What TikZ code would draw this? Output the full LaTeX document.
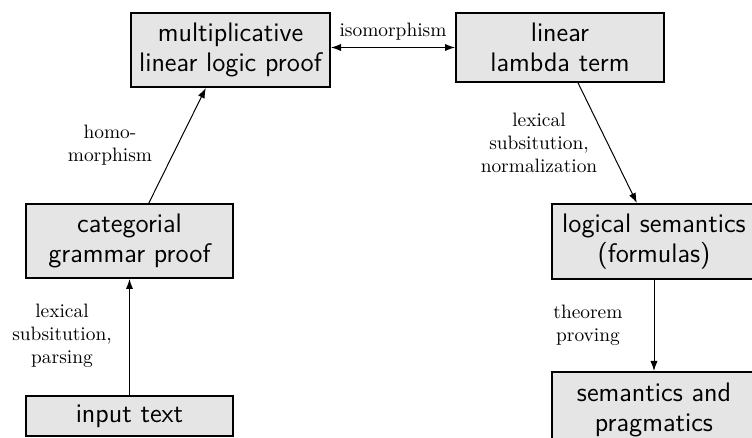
\documentclass[tikz,border=0pt]{standalone}
\usetikzlibrary{arrows.meta}
\begin{document}
\begin{tikzpicture}[x=0.5pt,y=-0.5pt,
  box/.style={draw, line width=1pt, fill=gray!20, align=center, inner sep=0pt,
    font=\fontsize{13.4}{15}\sffamily\selectfont},
  lbl/.style={align=center, inner sep=0pt, font=\fontsize{9.7}{11.5}\selectfont},
  conn/.style={line width=0.5pt, -{Latex[length=5pt,width=3.6pt]}},
  conn2/.style={line width=0.5pt, {Latex[length=5pt,width=3.6pt]}-{Latex[length=5pt,width=3.6pt]}}]
\useasboundingbox (0,0) rectangle (752,438);
\node[box, minimum width=99.5pt, minimum height=37pt] (mll) at (230.5,50) {multiplicative\\linear logic proof};
\node[box, minimum width=104pt, minimum height=34.5pt] (lam) at (560,47.5) {linear\\lambda term};
\node[box, minimum width=103.5pt, minimum height=37pt] (cat) at (129.5,241) {categorial\\grammar proof};
\node[box, minimum width=103.5pt, minimum height=20pt] (inp) at (129.5,416) {input text};
\node[box, minimum width=102pt, minimum height=37.5pt] (log) at (654,241.5) {logical semantics\\(formulas)};
\node[box, minimum width=102pt, minimum height=37.5pt] (sem) at (654,409.5) {semantics and\\pragmatics};
\draw[conn2] (mll.east |- lam.west) -- (lam.west);
\draw[conn] (cat.63) -- (mll.237.6);
\draw[conn] (lam.297.6) -- (log.114.4);
\draw[conn] (inp) -- (cat);
\draw[conn] (log) -- (sem);
\node[lbl] (l1) at (393,32) {isomorphism};
\node[lbl] (l2) at (110,145) {homo-\\morphism};
\node[lbl] (l3) at (539,143) {lexical\\subsitution,\\normalization};
\node[lbl] (l4) at (62,336) {lexical\\subsitution,\\parsing};
\node[lbl] (l5) at (588,325) {theorem\\proving};
\end{tikzpicture}
\end{document}
